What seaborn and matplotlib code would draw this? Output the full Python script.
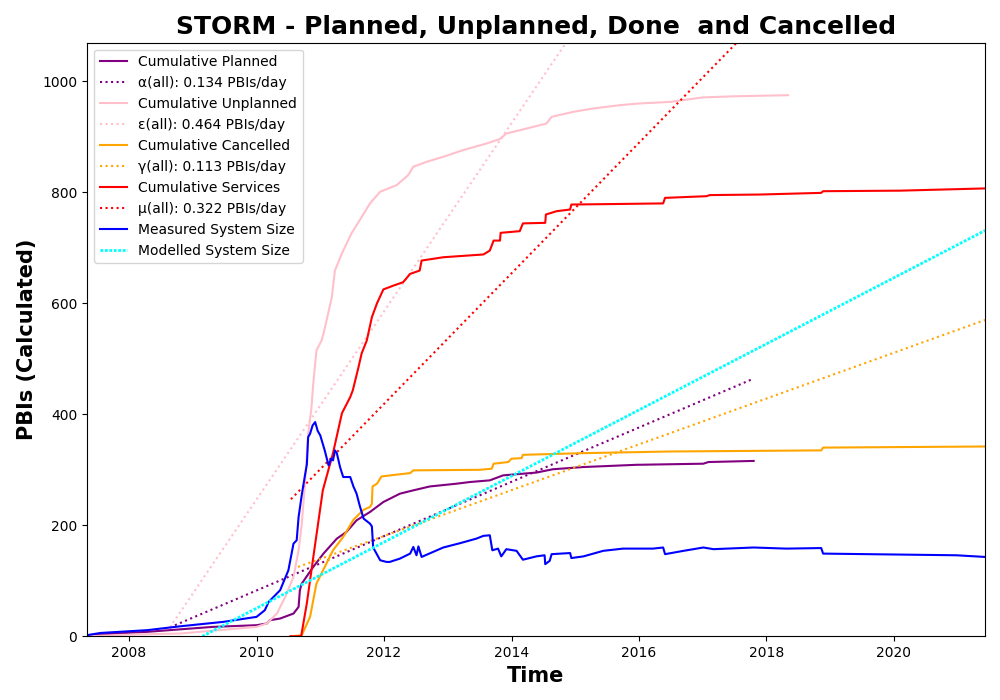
import numpy as np
import pandas as pd
import matplotlib
matplotlib.use("Agg")
import matplotlib.pyplot as plt
import matplotlib.dates as mdates
import seaborn as sns

# Values (decimal years, PBIs)
planned_t = [2007.34, 2008.28, 2009.32, 2010.0, 2010.16, 2010.21, 2010.37, 2010.58, 2010.66, 2010.68,
             2010.71, 2010.89, 2011.05, 2011.26, 2011.41, 2011.57, 2011.78, 2011.99, 2012.25, 2012.46,
             2012.72, 2013.14, 2013.35, 2013.66, 2013.87, 2014.39, 2014.65, 2015.13, 2015.96, 2017.01,
             2017.09, 2017.8]
planned_v = [2, 8, 17, 20, 23, 29, 32, 41, 53, 83, 95, 125, 149, 176, 188, 209, 224, 242, 257, 263,
             270, 275, 278, 281, 290, 295, 301, 305, 309, 311, 314, 316]

unplanned_t = [2007.34, 2008.0, 2008.8, 2010.0, 2010.16, 2010.32, 2010.45, 2010.58, 2010.66, 2010.71,
               2010.76, 2010.81, 2010.86, 2010.89, 2010.94, 2011.02, 2011.05, 2011.18, 2011.23, 2011.34,
               2011.49, 2011.62, 2011.78, 2011.94, 2012.2, 2012.38, 2012.46, 2012.67, 2012.93, 2013.24,
               2013.61, 2013.82, 2013.92, 2014.24, 2014.55, 2014.63, 2014.97, 2015.28, 2015.7, 2016.0,
               2016.5, 2017.0, 2017.5, 2018.34]
unplanned_v = [0, 3, 5, 17, 23, 41, 71, 107, 155, 203, 275, 365, 410, 455, 515, 533, 545, 610, 659, 690,
               726, 750, 780, 801, 813, 831, 846, 855, 864, 876, 888, 896, 906, 915, 924, 936, 945, 951,
               957, 960, 963, 971, 973, 975]

cancelled_t = [2010.55, 2010.71, 2010.84, 2010.94, 2011.07, 2011.2, 2011.36, 2011.52, 2011.68, 2011.78,
               2011.81, 2011.82, 2011.89, 2011.96, 2012.25, 2012.41, 2012.46, 2013.5, 2013.69, 2013.72,
               2013.95, 2014.0, 2014.16, 2014.18, 2015.13, 2016.49, 2018.86, 2018.89, 2021.43]
cancelled_v = [0, 2, 35, 95, 125, 155, 179, 210, 228, 233, 239, 270, 275, 288, 292, 294, 299, 300, 302,
               311, 314, 320, 321, 327, 330, 333, 335, 340, 342]

services_t = [2010.53, 2010.7, 2010.79, 2010.89, 2011.04, 2011.2, 2011.34, 2011.47, 2011.51, 2011.6,
              2011.65, 2011.73, 2011.81, 2011.89, 2011.99, 2012.15, 2012.3, 2012.41, 2012.56, 2012.59,
              2012.93, 2013.56, 2013.66, 2013.72, 2013.82, 2013.83, 2014.13, 2014.18, 2014.53, 2014.54,
              2014.71, 2014.92, 2014.94, 2015.7, 2016.38, 2016.41, 2017.06, 2017.11, 2017.9, 2018.86,
              2018.89, 2020.1, 2021.43]
services_v = [0, 0, 60, 142, 263, 330, 402, 431, 443, 485, 510, 533, 575, 600, 625, 632, 638, 653, 659,
              677, 683, 688, 695, 713, 713, 727, 730, 744, 745, 760, 766, 769, 778, 779, 780, 790, 793,
              795, 796, 799, 802, 803, 807]

measured_t = [2007.34, 2007.55, 2008.28, 2008.8, 2009.48, 2010.0, 2010.13, 2010.19, 2010.37, 2010.5,
              2010.58, 2010.63, 2010.66, 2010.71, 2010.76, 2010.79, 2010.81, 2010.84, 2010.88, 2010.92,
              2010.96, 2011.0, 2011.07, 2011.13, 2011.17, 2011.2, 2011.23, 2011.26, 2011.31, 2011.36,
              2011.47, 2011.52, 2011.57, 2011.62, 2011.68, 2011.78, 2011.81, 2011.83, 2011.94, 2012.04,
              2012.09, 2012.25, 2012.41, 2012.46, 2012.51, 2012.54, 2012.59, 2012.93, 2013.2, 2013.45,
              2013.56, 2013.66, 2013.7, 2013.79, 2013.84, 2013.92, 2014.08, 2014.18, 2014.39, 2014.52,
              2014.53, 2014.6, 2014.63, 2014.92, 2014.94, 2015.13, 2015.44, 2015.75, 2016.22, 2016.38,
              2016.41, 2016.7, 2017.01, 2017.17, 2017.8, 2018.31, 2018.86, 2018.89, 2020.98, 2021.43]
measured_v = [2, 6, 11, 18, 26, 35, 47, 62, 83, 119, 167, 173, 215, 255, 290, 310, 359, 365, 380, 386,
              370, 362, 335, 308, 320, 317, 335, 330, 305, 287, 287, 270, 257, 235, 212, 203, 198, 160,
              137, 134, 134, 140, 149, 161, 146, 162, 143, 160, 168, 176, 181, 182, 155, 158, 144, 157,
              154, 138, 144, 146, 130, 136, 148, 150, 141, 144, 154, 158, 158, 160, 148, 154, 160, 157,
              160, 158, 159, 149, 146, 143]

# Fitted rates (PBIs/day) and where each model line starts/ends
rate_names = ["α", "ε", "γ", "μ"]
rates = [0.134, 0.464, 0.113, 0.322]
fit_start_t = [2008.64, 2008.64, 2010.65, 2010.54]
fit_start_v = [16, 16, 125, 247]
fit_end_t = [2017.8, 2018.34, 2021.43, 2021.43]

system_rate = rates[0] + rates[1] - rates[2] - rates[3]
system_start_t = 2009.15
system_end_t = 2021.43


def to_date(years):
    years = np.asarray(years, dtype=float)
    return pd.Timestamp("2007-01-01") + pd.to_timedelta((years - 2007) * 365.25, unit="D")


def model_line(t0, v0, t1, rate):
    days = np.arange(0, (t1 - t0) * 365.25 + 1)
    dates = pd.Timestamp("2007-01-01") + pd.to_timedelta((t0 - 2007) * 365.25 + days, unit="D")
    return dates, v0 + rate * days


fig, ax = plt.subplots(figsize=(10, 7))
fig.subplots_adjust(left=0.087, right=0.985, top=0.939, bottom=0.091)

series = [
    ("Cumulative Planned", planned_t, planned_v, "purple"),
    ("Cumulative Unplanned", unplanned_t, unplanned_v, "pink"),
    ("Cumulative Cancelled", cancelled_t, cancelled_v, "orange"),
    ("Cumulative Services", services_t, services_v, "red"),
]

for i, (label, t, v, col) in enumerate(series):
    sns.lineplot(x=to_date(t), y=v, color=col, lw=1.5, label=label, ax=ax)
    d, m = model_line(fit_start_t[i], fit_start_v[i], fit_end_t[i], rates[i])
    sns.lineplot(x=d, y=m, color=col, lw=1.5, linestyle=":",
                 label=f"{rate_names[i]}(all): {rates[i]:.3f} PBIs/day", ax=ax)

sns.lineplot(x=to_date(measured_t), y=measured_v, color="blue", lw=1.5,
             label="Measured System Size", ax=ax)
d, m = model_line(system_start_t, 0, system_end_t, system_rate)
ax.plot(d, m, color="cyan", lw=2.0, linestyle=(0, (1, 0.6)), label="Modelled System Size")

ax.set_xlim(to_date([measured_t[0]])[0], to_date([measured_t[-1]])[0])
ax.set_ylim(0, max(unplanned_v) * 1.097)
ax.xaxis.set_major_locator(mdates.YearLocator(2))
ax.xaxis.set_major_formatter(mdates.DateFormatter("%Y"))

ax.set_title("STORM - Planned, Unplanned, Done  and Cancelled", fontsize=18, fontweight="bold")
ax.set_xlabel("Time", fontsize=15, fontweight="bold")
ax.set_ylabel("PBIs (Calculated)", fontsize=15, fontweight="bold")
ax.legend(loc="upper left", fontsize=10)

fig.savefig("out.png", dpi=100)
